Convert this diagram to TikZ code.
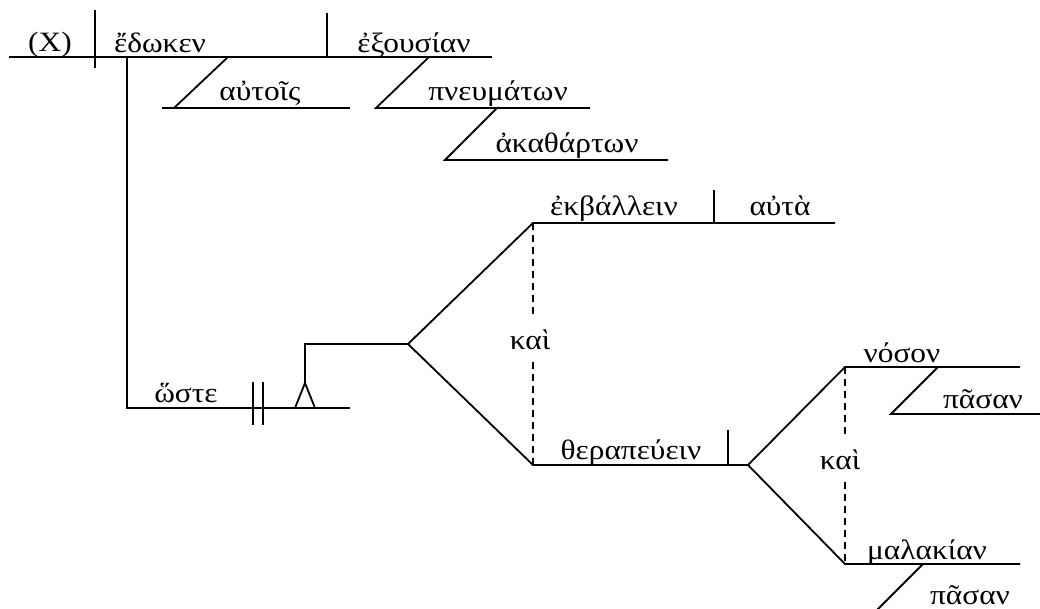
\documentclass[tikz,border=0pt]{standalone}
\usepackage{fontspec}
\setmainfont[FakeStretch=1.12]{Liberation Serif}
\tikzset{
  word/.style={anchor=base, inner sep=0pt, font=\fontsize{28}{32}\selectfont},
  conjword/.style={anchor=center, inner xsep=0pt, inner ysep=12pt, font=\fontsize{28}{32}\selectfont},
  diag/.style={line width=1.8pt},
  conj/.style={line width=1.8pt, dash pattern=on 7pt off 5pt},
}
\begin{document}
\begin{tikzpicture}[x=1pt, y=-1pt]
        \useasboundingbox (0,0) rectangle (1040,609);
        \clip (0,0) rectangle (1040,609);
        % main clause
        \begin{scope}[name prefix = main-]
            \coordinate (L) at (9,57);
            \coordinate (R) at (492,57);
            \coordinate (S1) at (95,10);
            \coordinate (S2) at (95,68);
            \coordinate (V1) at (327,13);
            \coordinate (V2) at (327,57);
            \node[word] (subj) at (50,52) {(X)};
            \node[word] (verb) at (160,53) {ἔδωκεν};
            \node[word] (obj) at (414,53) {ἐξουσίαν};
            \draw[diag] (L) -- (R);
            \draw[diag] (S1) -- (S2);
            \draw[diag] (V1) -- (V2);
        \end{scope}
        % modifiers
        \begin{scope}[name prefix = ind-]
            \coordinate (A) at (228,57);
            \coordinate (B) at (174,108);
            \coordinate (C) at (162,108);
            \coordinate (D) at (350,108);
            \node[word] (w) at (260,101) {αὐτοῖς};
            \draw[diag] (A) -- (B);
            \draw[diag] (C) -- (D);
        \end{scope}
        \begin{scope}[name prefix = gen-]
            \coordinate (A) at (429,57);
            \coordinate (B) at (376,108);
            \coordinate (D) at (590,108);
            \node[word] (w) at (498,101) {πνευμάτων};
            \draw[diag] (A) -- (B) -- (D);
        \end{scope}
        \begin{scope}[name prefix = adj-]
            \coordinate (A) at (497,108);
            \coordinate (B) at (445,160);
            \coordinate (D) at (668,160);
            \node[word] (w) at (567,153) {ἀκαθάρτων};
            \draw[diag] (A) -- (B) -- (D);
        \end{scope}
        % result clause
        \begin{scope}[name prefix = res-]
            \coordinate (T) at (127,57);
            \coordinate (C) at (127,408);
            \coordinate (E) at (350,408);
            \coordinate (K1) at (253,382);
            \coordinate (K2) at (253,425);
            \coordinate (K3) at (263,382);
            \coordinate (K4) at (263,425);
            \coordinate (P1) at (295,408);
            \coordinate (P2) at (305,383);
            \coordinate (P3) at (315,408);
            \coordinate (U) at (305,344);
            \coordinate (F) at (408,344);
            \node[word] (w) at (186,402) {ὥστε};
            \draw[diag] (T) -- (C) -- (E);
            \draw[diag] (K1) -- (K2);
            \draw[diag] (K3) -- (K4);
            \draw[diag] (P1) -- (P2) -- (P3);
            \draw[diag] (P2) -- (U) -- (F);
        \end{scope}
        % compound infinitives
        \begin{scope}[name prefix = inf-]
            \coordinate (A) at (533,223);
            \coordinate (AR) at (835,223);
            \coordinate (AV1) at (714,190);
            \coordinate (AV2) at (714,223);
            \coordinate (B) at (533,465);
            \coordinate (BR) at (748,465);
            \coordinate (BV1) at (728,430);
            \coordinate (BV2) at (728,465);
            \node[word] (ek) at (614,216) {ἐκβάλλειν};
            \node[word] (auta) at (780,216) {αὐτὰ};
            \node[word] (ther) at (631,459) {θεραπεύειν};
            \node[conjword] (kai) at (530,340) {καὶ};
            \draw[diag] (res-F) -- (A) -- (AR);
            \draw[diag] (AV1) -- (AV2);
            \draw[diag] (res-F) -- (B) -- (BR);
            \draw[diag] (BV1) -- (BV2);
            \draw[conj] (A) -- (kai.north -| A);
            \draw[conj] (kai.south -| B) -- (B);
        \end{scope}
        % compound objects
        \begin{scope}[name prefix = dob-]
            \coordinate (A) at (845,367);
            \coordinate (AR) at (1020,367);
            \coordinate (B) at (845,564);
            \coordinate (BR) at (1020,564);
            \coordinate (M1) at (938,367);
            \coordinate (M2) at (891,414);
            \coordinate (M3) at (1040,414);
            \coordinate (N1) at (923,564);
            \coordinate (N2) at (871,616);
            \coordinate (N3) at (1040,616);
            \node[word] (nos) at (902,362) {νόσον};
            \node[word] (pas1) at (983,408) {πᾶσαν};
            \node[word] (mal) at (927,559) {μαλακίαν};
            \node[word] (pas2) at (970,604) {πᾶσαν};
            \node[conjword] (kai) at (840,460) {καὶ};
            \draw[diag] (inf-BR) -- (A) -- (AR);
            \draw[diag] (inf-BR) -- (B) -- (BR);
            \draw[diag] (M1) -- (M2) -- (M3);
            \draw[diag] (N1) -- (N2) -- (N3);
            \draw[conj] (A) -- (kai.north -| A);
            \draw[conj] (kai.south -| B) -- (B);
        \end{scope}
    \end{tikzpicture}
\end{document}
